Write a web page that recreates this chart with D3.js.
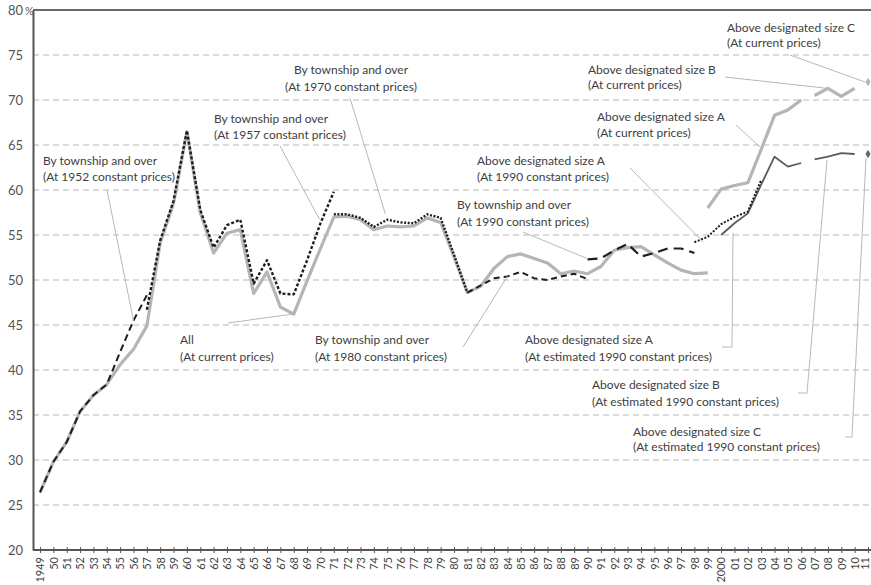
<!DOCTYPE html>
<html>
<head>
<meta charset="utf-8">
<script src="https://cdn.jsdelivr.net/npm/d3@7"></script>
<style>
  html, body { margin: 0; padding: 0; background: #fff; }
  svg { display: block; font-family: Lato, "Open Sans", sans-serif; }
</style>
</head>
<body>
<svg id="chart" width="871" height="585"></svg>
<script>
// ---------------- data ----------------
const years = d3.range(1949, 2012);
const yTicks = [20, 25, 30, 35, 40, 45, 50, 55, 60, 65, 70, 75, 80];

// All (at current prices) 1949-1999
const allCurrentStart = 1949;
const allCurrent = [26.4, 29.8, 32.0, 35.4, 37.2, 38.4, 40.6, 42.3, 44.9, 54.1,
  58.5, 66.5, 57.5, 53.0, 55.2, 55.6, 48.5, 50.9, 47.0, 46.2,
  49.9, 53.5, 57.0, 57.1, 56.7, 55.6, 56.0, 55.9, 56.0, 56.9,
  56.4, 52.6, 48.6, 49.3, 51.3, 52.6, 52.9, 52.4, 51.9, 50.7,
  51.0, 50.7, 51.5, 53.3, 53.6, 53.7, 52.8, 51.9, 51.1, 50.7, 50.8];
// By township and over, at 1952 constant prices 1949-1957
const town1952Start = 1949;
const town1952 = [26.4, 29.8, 32.0, 35.4, 37.2, 38.4, 42.0, 45.5, 48.3];
// at 1957 constant prices 1957-1971
const town1957Start = 1957;
const town1957 = [46.7, 54.4, 58.8, 66.6, 57.8, 53.6, 56.1, 56.7, 49.6, 52.2, 48.5, 48.4, 52.2, 56.3, 59.8];
// at 1970 constant prices 1971-1981
const town1970Start = 1971;
const town1970 = [57.3, 57.3, 56.9, 55.9, 56.7, 56.4, 56.3, 57.3, 56.9, 52.8, 48.6];
// at 1980 constant prices 1981-1990
const town1980Start = 1981;
const town1980 = [48.6, 49.4, 50.2, 50.4, 50.9, 50.2, 50.0, 50.4, 50.7, 50.1];
// at 1990 constant prices 1990-1998
const town1990Start = 1990;
const town1990 = [52.3, 52.4, 53.3, 54.0, 52.6, 53.0, 53.5, 53.5, 53.0];
// Above designated size A, at 1990 constant prices 1998-2003
const aConst1990Start = 1998;
const aConst1990 = [54.2, 54.8, 56.2, 57.0, 57.6, 61.1];
// Above designated size A/B/C at current prices
const aCurrentStart = 1999;
const aCurrent = [58.0, 60.1, 60.5, 60.8, 64.5, 68.3, 68.9, 70.0];
const bCurrentStart = 2007;
const bCurrent = [70.5, 71.3, 70.4, 71.3];
const cCurrentStart = 2011;
const cCurrent = [72.0];
// Above designated size A/B/C at estimated 1990 constant prices
const aEstStart = 2000;
const aEst = [55.0, 56.3, 57.4, 60.6, 63.7, 62.6, 63.0];
const bEstStart = 2007;
const bEst = [63.4, 63.7, 64.1, 64.0];
const cEstStart = 2011;
const cEst = [64.0];

// annotation texts
const labelTexts = {
  t1952: ["By township and over", "(At 1952 constant prices)"],
  all: ["All", "(At current prices)"],
  t1957: ["By township and over", "(At 1957 constant prices)"],
  t1970: ["By township and over", "(At 1970 constant prices)"],
  t1980: ["By township and over", "(At 1980 constant prices)"],
  t1990: ["By township and over", "(At 1990 constant prices)"],
  a1990: ["Above designated size A", "(At 1990 constant prices)"],
  aCur: ["Above designated size A", "(At current prices)"],
  bCur: ["Above designated size B", "(At current prices)"],
  cCur: ["Above designated size C", "(At current prices)"],
  aEst: ["Above designated size A", "(At estimated 1990 constant prices)"],
  bEst: ["Above designated size B", "(At estimated 1990 constant prices)"],
  cEst: ["Above designated size C", "(At estimated 1990 constant prices)"]
};

// ---------------- drawing ----------------
const svg = d3.select("#chart");
const W = 871;
const x = d3.scaleLinear().domain([1949, 2011]).range([40, 868]);
const y = d3.scaleLinear().domain([20, 80]).range([550, 10]);
const axisX0 = 33;

function pts(start, arr) { return arr.map((v, i) => [start + i, v]); }

// grid lines
svg.append("g").selectAll("line").data(yTicks.filter(t => t > 20 && t < 80)).join("line")
  .attr("x1", axisX0).attr("x2", W)
  .attr("y1", d => y(d)).attr("y2", d => y(d))
  .attr("stroke", "#cfcfcf").attr("stroke-width", 1.3).attr("stroke-dasharray", "6,4");

// top border
svg.append("line").attr("x1", axisX0).attr("x2", W).attr("y1", y(80)).attr("y2", y(80))
  .attr("stroke", "#6a6a6a").attr("stroke-width", 2);

// y axis
const yAxis = d3.axisLeft(y).tickValues(yTicks).tickSize(0).tickPadding(10)
  .tickFormat(d => d);
const gy = svg.append("g").attr("transform", `translate(${axisX0},0)`).call(yAxis);
gy.select(".domain").attr("stroke", "#555").attr("stroke-width", 2);
gy.selectAll("text").attr("fill", "#555").attr("font-size", 13).attr("font-family", "Lato, sans-serif");
svg.append("text").attr("x", 25).attr("y", y(80) + 4.5).text("%")
  .attr("fill", "#555").attr("font-size", 11).attr("font-family", "Lato, sans-serif");

// x axis
const xAxis = d3.axisBottom(x).tickValues(years).tickSize(3).tickPadding(3)
  .tickFormat(d => (d === 1949 || d === 2000) ? String(d) : String(d % 100).padStart(2, "0"));
const gx = svg.append("g").attr("transform", `translate(0,${y(20)})`).call(xAxis);
gx.select(".domain").attr("d", `M${axisX0},0H${W}`).attr("stroke", "#555").attr("stroke-width", 2);
gx.selectAll(".tick line").attr("y1", -3).attr("y2", 3).attr("stroke", "#555");
gx.selectAll("text")
  .attr("transform", "rotate(-90)")
  .attr("text-anchor", "end")
  .attr("x", -7).attr("y", d => d === 2011 ? -3 : 0).attr("dy", "0.35em")
  .attr("fill", "#444").attr("font-size", 11).attr("font-family", "Lato, sans-serif");

// series
const line = d3.line().x(d => x(d[0])).y(d => y(d[1]));
function drawLine(start, arr, color, width, dash) {
  svg.append("path").datum(pts(start, arr))
    .attr("d", line).attr("fill", "none")
    .attr("stroke", color).attr("stroke-width", width)
    .attr("stroke-dasharray", dash || null)
    .attr("stroke-linejoin", "round");
}
const grayC = "#b5b5b5";
const darkC = "#1e1e1e";
drawLine(allCurrentStart, allCurrent, grayC, 3.2);
drawLine(aCurrentStart, aCurrent, grayC, 3.2);
drawLine(bCurrentStart, bCurrent, grayC, 3.2);
drawLine(aEstStart, aEst, "#5a5a5a", 1.8);
drawLine(bEstStart, bEst, "#5a5a5a", 1.8);
drawLine(town1952Start, town1952, darkC, 2, "7,4");
drawLine(town1957Start, town1957, darkC, 2.4, "3,2");
drawLine(town1970Start, town1970, darkC, 2.4, "2,1.6");
drawLine(town1980Start, town1980, darkC, 2, "6,4");
drawLine(town1990Start, town1990, darkC, 2.2, "10,6");
drawLine(aConst1990Start, aConst1990, darkC, 2, "2,1.6");

// diamond markers
const diamond = d3.symbol().type(d3.symbolDiamond).size(22);
svg.append("g").selectAll("path").data(pts(cCurrentStart, cCurrent)).join("path")
  .attr("d", diamond).attr("transform", d => `translate(${x(d[0])},${y(d[1])})`)
  .attr("fill", grayC);
svg.append("g").selectAll("path").data(pts(cEstStart, cEst)).join("path")
  .attr("d", diamond).attr("transform", d => `translate(${x(d[0])},${y(d[1])})`)
  .attr("fill", "#666");

// annotations
const ann = svg.append("g").attr("font-family", "Lato, sans-serif").attr("font-size", 12).attr("fill", "#404040");
function label(key, lx, ly1, ly2, anchor) {
  const t = labelTexts[key];
  ann.append("text").attr("x", lx).attr("y", ly1).attr("text-anchor", anchor || "start").text(t[0]);
  ann.append("text").attr("x", lx).attr("y", ly2).attr("text-anchor", anchor || "start").text(t[1]);
}
const lead = svg.append("g").attr("fill", "none").attr("stroke", "#b8b8b8").attr("stroke-width", 1);
function leader(pointsArr) {
  lead.append("path").attr("d", d3.line()(pointsArr));
}

label("t1952", 43, 165, 181);
leader([[107, 190], [x(1956), y(45.5)]]);

label("all", 180, 344, 361);
leader([[228, 323], [x(1968) - 2, y(46.2)]]);

label("t1957", 214, 123, 139);
leader([[280, 146], [x(1970) - 1, y(56.3) - 4]]);

label("t1970", 351, 74, 91, "middle");
leader([[350, 98], [x(1975) - 2, y(56.7) - 6]]);

label("t1980", 315, 344, 361);
leader([[463, 347], [x(1984), y(50.4)]]);

label("t1990", 457, 209, 226);
leader([[523, 232], [x(1990) - 1, y(52.3) - 1]]);

label("a1990", 477, 165, 181);
leader([[630, 168], [x(1998) + 9, y(54.2)]]);

label("aCur", 597, 121, 137);
leader([[736, 125], [760, 147]]);

label("bCur", 588, 74, 89);
leader([[725, 77], [x(2008) - 1, y(71.3)]]);

label("cCur", 727, 32, 47);
leader([[790, 55], [x(2011) - 3, y(72.0)]]);

label("aEst", 525, 344, 361);
leader([[722, 347], [732, 347], [733, 233]]);

label("bEst", 592, 389, 406);
leader([[798, 393], [807, 393], [827, 160]]);

label("cEst", 633, 436, 451);
leader([[845, 437], [852, 437], [866, 158]]);
</script>
</body>
</html>
